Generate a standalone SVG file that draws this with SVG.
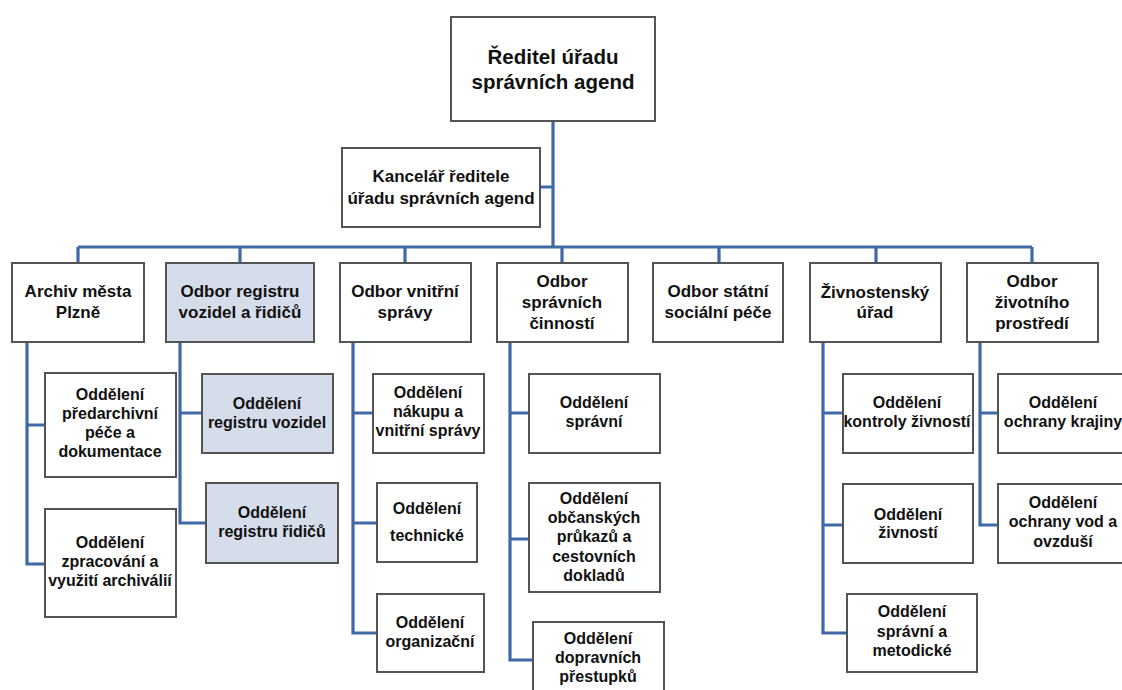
<svg xmlns="http://www.w3.org/2000/svg" width="1122" height="690" viewBox="0 0 1122 690">
<style>
.box{fill:#ffffff;stroke:#545454;stroke-width:2}
.blue{fill:#d5dcea}
.c{fill:none;stroke:#3f68a6;stroke-width:3.2}
text{font-family:"Liberation Sans",Arial,sans-serif;font-weight:bold;fill:#111;text-anchor:middle}
.t1{font-size:20.5px}
.t2{font-size:17px}
.t3{font-size:16px}
</style>
<rect width="1122" height="690" fill="#ffffff"/>
<g id="connectors">
<path class="c" d="M553 121V247M540 187H553M78 247H1032M78 247V263M240 247V263M405 247V263M562 247V263M719 247V263M876 247V263M1032 247V263"/>
<path class="c" d="M27 342V564H45M27 425H45"/>
<path class="c" d="M180 342V523H206M180 413H202"/>
<path class="c" d="M353 342V633H377M353 413H373M353 523H377"/>
<path class="c" d="M510 342V660H533M510 413H529M510 539H529"/>
<path class="c" d="M823 342V633H847M823 413H843M823 525H843"/>
<path class="c" d="M980 342V525H998M980 413H998"/>
</g>
<g id="n_reditel"><rect class="box" x="451" y="17" width="204" height="104"/><text class="t1" x="553" y="64">Ředitel úřadu</text><text class="t1" x="553" y="89">správních agend</text></g>
<g id="n_kancelar"><rect class="box" x="342" y="148" width="198" height="79"/><text class="t2" x="441" y="182">Kancelář ředitele</text><text class="t2" x="441" y="204">úřadu správních agend</text></g>
<g id="n_archiv"><rect class="box" x="12" y="263" width="132" height="79"/><text class="t2" x="78" y="297">Archiv města</text><text class="t2" x="78" y="318">Plzně</text></g>
<g id="n_registr"><rect class="box blue" x="166" y="263" width="148" height="79"/><text class="t2" x="240" y="297">Odbor registru</text><text class="t2" x="240" y="318">vozidel a řidičů</text></g>
<g id="n_vnitrni"><rect class="box" x="340" y="263" width="131" height="79"/><text class="t2" x="405" y="297">Odbor vnitřní</text><text class="t2" x="405" y="318">správy</text></g>
<g id="n_spravni"><rect class="box" x="497" y="263" width="131" height="79"/><text class="t2" x="562" y="287">Odbor</text><text class="t2" x="562" y="308">správních</text><text class="t2" x="562" y="329">činností</text></g>
<g id="n_statni"><rect class="box" x="653" y="263" width="130" height="79"/><text class="t2" x="718" y="297">Odbor státní</text><text class="t2" x="718" y="318">sociální péče</text></g>
<g id="n_zivnost"><rect class="box" x="810" y="263" width="131" height="79"/><text class="t2" x="875" y="298">Živnostenský</text><text class="t2" x="875" y="318">úřad</text></g>
<g id="n_zivotni"><rect class="box" x="967" y="263" width="131" height="79"/><text class="t2" x="1032" y="287">Odbor</text><text class="t2" x="1032" y="308">životního</text><text class="t2" x="1032" y="329">prostředí</text></g>
<g id="n_predarch"><rect class="box" x="45" y="373" width="131" height="104"/><text class="t3" x="110" y="400">Oddělení</text><text class="t3" x="110" y="419">předarchivní</text><text class="t3" x="110" y="438">péče a</text><text class="t3" x="110" y="457">dokumentace</text></g>
<g id="n_zprac"><rect class="box" x="45" y="509" width="131" height="108"/><text class="t3" x="110" y="548">Oddělení</text><text class="t3" x="110" y="567">zpracování a</text><text class="t3" x="110" y="586">využití archiválií</text></g>
<g id="n_vozidel"><rect class="box blue" x="202" y="374" width="131" height="79"/><text class="t3" x="267" y="409">Oddělení</text><text class="t3" x="267" y="428">registru vozidel</text></g>
<g id="n_ridicu"><rect class="box blue" x="206" y="483" width="132" height="80"/><text class="t3" x="272" y="518">Oddělení</text><text class="t3" x="272" y="537">registru řidičů</text></g>
<g id="n_nakupu"><rect class="box" x="373" y="374" width="111" height="79"/><text class="t3" x="428" y="398">Oddělení</text><text class="t3" x="428" y="417">nákupu a</text><text class="t3" x="428" y="436">vnitřní správy</text></g>
<g id="n_technicke"><rect class="box" x="377" y="483" width="100" height="79"/><text class="t3" x="427" y="514">Oddělení</text><text class="t3" x="427" y="541">technické</text></g>
<g id="n_organiz"><rect class="box" x="377" y="594" width="107" height="78"/><text class="t3" x="430" y="628">Oddělení</text><text class="t3" x="430" y="647">organizační</text></g>
<g id="n_odd_spravni"><rect class="box" x="529" y="374" width="131" height="79"/><text class="t3" x="594" y="408">Oddělení</text><text class="t3" x="594" y="427">správní</text></g>
<g id="n_obcanske"><rect class="box" x="529" y="483" width="131" height="109"/><text class="t3" x="594" y="504">Oddělení</text><text class="t3" x="594" y="523">občanských</text><text class="t3" x="594" y="542">průkazů a</text><text class="t3" x="594" y="562">cestovních</text><text class="t3" x="594" y="581">dokladů</text></g>
<g id="n_dopravni"><rect class="box" x="533" y="622" width="131" height="78"/><text class="t3" x="598" y="644">Oddělení</text><text class="t3" x="598" y="663">dopravních</text><text class="t3" x="598" y="682">přestupků</text></g>
<g id="n_kontroly"><rect class="box" x="843" y="374" width="130" height="79"/><text class="t3" x="907" y="408">Oddělení</text><text class="t3" x="907" y="427">kontroly živností</text></g>
<g id="n_zivnosti"><rect class="box" x="843" y="484" width="130" height="79"/><text class="t3" x="908" y="520">Oddělení</text><text class="t3" x="908" y="538">živností</text></g>
<g id="n_metod"><rect class="box" x="847" y="594" width="130" height="78"/><text class="t3" x="912" y="617">Oddělení</text><text class="t3" x="912" y="637">správní a</text><text class="t3" x="912" y="656">metodické</text></g>
<g id="n_krajiny"><rect class="box" x="998" y="374" width="130" height="79"/><text class="t3" x="1063" y="408">Oddělení</text><text class="t3" x="1063" y="427">ochrany krajiny</text></g>
<g id="n_vod"><rect class="box" x="998" y="484" width="130" height="79"/><text class="t3" x="1063" y="508">Oddělení</text><text class="t3" x="1063" y="527">ochrany vod a</text><text class="t3" x="1063" y="547">ovzduší</text></g>
</svg>
